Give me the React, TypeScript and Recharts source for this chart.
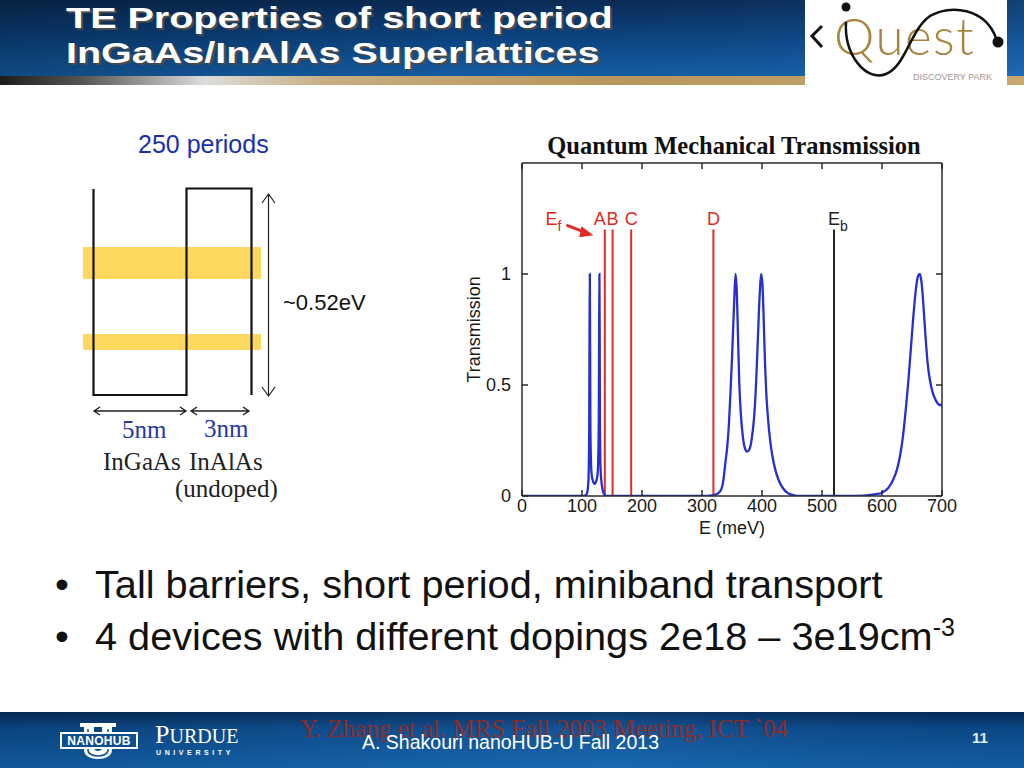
import React from 'react';
import { LineChart, Line, XAxis, YAxis, ReferenceLine, ReferenceDot } from 'recharts';

// ---- Data ----
const energyMeV = [
  0, 100, 106, 108, 109, 110, 111, 112, 112.5, 113, 113.5, 114, 115, 116, 118, 121, 124, 126, 127, 128, 128.5, 129, 129.5, 130, 131, 133, 135, 137, 140,
  300, 320, 330, 335, 339, 342, 345, 348, 350, 352, 354, 356, 358, 360, 362, 365, 368, 371, 375, 379, 383, 387, 390, 393, 396, 399, 401, 403, 405, 407, 410, 414, 418, 422, 428, 435, 442, 450, 460,
  540, 570, 590, 600, 610, 618, 625, 630, 635, 640, 644, 648, 652, 656, 660, 663, 666, 669, 672, 676, 680, 684, 688, 692, 696, 700,
];
const transmission = [
  0, 0, 0.003, 0.01, 0.02, 0.04, 0.09, 0.3, 0.7, 1.0, 0.7, 0.32, 0.15, 0.1, 0.07, 0.055, 0.07, 0.1, 0.16, 0.35, 0.7, 1.0, 0.7, 0.3, 0.12, 0.05, 0.02, 0.007, 0,
  0, 0.004, 0.02, 0.06, 0.15, 0.22, 0.33, 0.5, 0.62, 0.76, 0.9, 1.0, 0.92, 0.72, 0.52, 0.36, 0.27, 0.22, 0.2, 0.21, 0.26, 0.36, 0.5, 0.7, 0.9, 1.0, 0.94, 0.78, 0.6, 0.47, 0.35, 0.24, 0.17, 0.12, 0.07, 0.035, 0.015, 0.005, 0,
  0, 0.002, 0.008, 0.015, 0.035, 0.07, 0.12, 0.18, 0.27, 0.4, 0.52, 0.66, 0.8, 0.92, 0.99, 1.0, 0.96, 0.86, 0.74, 0.6, 0.52, 0.47, 0.44, 0.42, 0.41, 0.41,
];
const xTicks = [0, 100, 200, 300, 400, 500, 600, 700];
const yTicks = [0, 0.5, 1];
const yTickLabels = ['0', '0.5', '1'];

const markerNames = ['A', 'B', 'C', 'D', 'E'];
const markerSubs = ['', '', '', '', 'b'];
const markerEnergies = [138, 151, 182, 319, 520];
const markerTop = 1.2;
const efTip = { e: 119, t: 1.175 };

const chartData = energyMeV.map((e, i) => ({ e, t: transmission[i] }));

const RED = '#e02a24';
const BLACK = '#222';
const markerColors = [RED, RED, RED, RED, BLACK];
const markerNudge = [-5, 0, 0, 0, -6];
const SANS = '"Liberation Sans", Arial, sans-serif';
const SERIF = '"Liberation Serif", "Times New Roman", serif';
const AXIS = '#2a2a2a';
const TICK_LEN = 6;
const X_MARGIN = 10;
const Y_MARGIN = 11;

const MarkerLabel = (i: number) => (p: any) => {
  const hasSub = markerSubs[i] !== '';
  return (
    <text
      x={p.cx + markerNudge[i]}
      y={p.cy - 5}
      textAnchor={hasSub ? 'start' : 'middle'}
      fontFamily={SANS}
      fontSize={18}
      fill={markerColors[i]}
    >
      {markerNames[i]}
      {hasSub && (
        <tspan dy={6} fontSize={14}>
          {markerSubs[i]}
        </tspan>
      )}
    </text>
  );
};

const EfLabel = (p: any) => {
  const x = p.cx;
  const y = p.cy;
  return (
    <g>
      <text x={x - 48} y={y - 10} fontFamily={SANS} fontSize={18} fill={RED}>
        E<tspan dy={6} fontSize={14}>f</tspan>
      </text>
      <line x1={x - 27} y1={y - 10} x2={x - 9} y2={y - 3} stroke={RED} strokeWidth={3} />
      <polygon points={`${x},${y} ${x - 12},${y - 9} ${x - 14},${y + 2}`} fill={RED} />
    </g>
  );
};

// Inward (MATLAB-style) ticks drawn with the labels, from the axis positions Recharts gives.
const BottomTick = (p: any) => {
  const axisY = p.y - X_MARGIN;
  return (
    <g>
      <line x1={p.x} y1={axisY} x2={p.x} y2={axisY - TICK_LEN} stroke={AXIS} strokeWidth={1.5} />
      <text x={p.x} y={p.y} dy={6} textAnchor="middle" fontFamily={SANS} fontSize={18} fill="#1a1a1a">
        {p.payload.value}
      </text>
    </g>
  );
};
const TopTick = (p: any) => (
  <line x1={p.x} y1={p.y} x2={p.x} y2={p.y + TICK_LEN} stroke={AXIS} strokeWidth={1.5} />
);
const LeftTick = (p: any) => {
  const idx = yTicks.indexOf(p.payload.value);
  const axisX = p.x + Y_MARGIN;
  return (
    <g>
      <line x1={axisX} y1={p.y} x2={axisX + TICK_LEN} y2={p.y} stroke={AXIS} strokeWidth={1.5} />
      <text x={p.x} y={p.y} dy={6} textAnchor="end" fontFamily={SANS} fontSize={18} fill="#1a1a1a">
        {idx >= 0 ? yTickLabels[idx] : p.payload.value}
      </text>
    </g>
  );
};
const RightTick = (p: any) => (
  <line x1={p.x} y1={p.y} x2={p.x - TICK_LEN} y2={p.y} stroke={AXIS} strokeWidth={1.5} />
);

const XLabel = (p: any) => {
  const vb = p.viewBox;
  return (
    <text x={vb.x + vb.width / 2} y={vb.y + 38} textAnchor="middle" fontFamily={SANS} fontSize={18} fill="#1a1a1a">
      E (meV)
    </text>
  );
};

const YLabel = (p: any) => {
  const vb = p.viewBox;
  const cx = vb.x + 14;
  const cy = vb.y + vb.height / 2;
  return (
    <text
      x={cx}
      y={cy}
      transform={`rotate(-90 ${cx} ${cy})`}
      textAnchor="middle"
      dominantBaseline="central"
      fontFamily={SANS}
      fontSize={18}
      fill="#1a1a1a"
    >
      Transmission
    </text>
  );
};

function TransmissionChart() {
  return (
    <LineChart width={500} height={410} data={chartData} margin={{ top: 32, right: 17, bottom: 14, left: 0 }}>
      <XAxis
        dataKey="e"
        type="number"
        domain={[0, 700]}
        ticks={xTicks}
        height={30}
        tickSize={0}
        tickMargin={X_MARGIN}
        axisLine={{ stroke: AXIS, strokeWidth: 1.5 }}
        tickLine={false}
        tick={<BottomTick />}
        label={<XLabel />}
        allowDataOverflow
      />
      <XAxis
        xAxisId="top"
        orientation="top"
        type="number"
        dataKey="e"
        domain={[0, 700]}
        ticks={xTicks}
        height={1}
        tickSize={0}
        tickMargin={0}
        tick={<TopTick />}
        axisLine={{ stroke: AXIS, strokeWidth: 1.5 }}
        tickLine={false}
        allowDataOverflow
      />
      <YAxis
        type="number"
        domain={[0, 1.5]}
        ticks={yTicks}
        width={62}
        tickSize={0}
        tickMargin={Y_MARGIN}
        axisLine={{ stroke: AXIS, strokeWidth: 1.5 }}
        tickLine={false}
        tick={<LeftTick />}
        label={<YLabel />}
        allowDataOverflow
      />
      <YAxis
        yAxisId="right"
        orientation="right"
        type="number"
        domain={[0, 1.5]}
        ticks={yTicks}
        width={1}
        tickSize={0}
        tickMargin={0}
        tick={<RightTick />}
        axisLine={{ stroke: AXIS, strokeWidth: 1.5 }}
        tickLine={false}
        allowDataOverflow
      />
      {markerEnergies.map((e, i) => (
        <ReferenceLine
          key={'ml' + i}
          segment={[
            { x: e, y: 0 },
            { x: e, y: markerTop },
          ]}
          stroke={markerColors[i]}
          strokeWidth={2}
        />
      ))}
      <Line
        type="monotone"
        dataKey="t"
        stroke="#2430d0"
        strokeWidth={2.3}
        dot={false}
        isAnimationActive={false}
      />
      {markerEnergies.map((e, i) => (
        <ReferenceDot key={'md' + i} x={e} y={markerTop} r={0} shape={MarkerLabel(i)} />
      ))}
      <ReferenceDot x={efTip.e} y={efTip.t} r={0} shape={EfLabel} />
    </LineChart>
  );
}

function Decor() {
  return (
    <svg width={1024} height={768} style={{ position: 'absolute', left: 0, top: 0 }}>
      <defs>
        <linearGradient id="hdr" x1="0" y1="0" x2="0" y2="1">
          <stop offset="0" stopColor="#0a2c58" />
          <stop offset="0.55" stopColor="#0d4a8c" />
          <stop offset="1" stopColor="#1663ae" />
        </linearGradient>
        <linearGradient id="hdrShade" x1="0" y1="0" x2="1" y2="0">
          <stop offset="0" stopColor="#000" stopOpacity="0.25" />
          <stop offset="0.5" stopColor="#000" stopOpacity="0.05" />
          <stop offset="1" stopColor="#3b8ad8" stopOpacity="0.2" />
        </linearGradient>
        <linearGradient id="stripe" x1="0" y1="0" x2="1" y2="0">
          <stop offset="0" stopColor="#1c1c1c" />
          <stop offset="0.08" stopColor="#555" />
          <stop offset="0.2" stopColor="#dcdcdc" />
          <stop offset="0.32" stopColor="#c7ad80" />
          <stop offset="0.6" stopColor="#b8955b" />
          <stop offset="1" stopColor="#c9a76f" />
        </linearGradient>
        <linearGradient id="ftr" x1="0" y1="0" x2="0" y2="1">
          <stop offset="0" stopColor="#052c5a" />
          <stop offset="0.3" stopColor="#0c4b8c" />
          <stop offset="1" stopColor="#1262aa" />
        </linearGradient>
        <linearGradient id="ftrShade" x1="0" y1="0" x2="1" y2="0">
          <stop offset="0" stopColor="#000" stopOpacity="0.1" />
          <stop offset="0.6" stopColor="#4aa0e8" stopOpacity="0.12" />
          <stop offset="1" stopColor="#000" stopOpacity="0.05" />
        </linearGradient>
      </defs>

      {/* Header */}
      <rect x={0} y={0} width={1024} height={77} fill="url(#hdr)" />
      <rect x={0} y={0} width={1024} height={77} fill="url(#hdrShade)" />
      <rect x={0} y={76} width={1024} height={9} fill="url(#stripe)" />
      <g fontFamily={SANS} fontWeight="bold" fontSize={29.5}>
        <g transform="translate(68,30) scale(1.34,1)">
          <text x={0} y={0} fill="#4a4a4a">TE Properties of short period</text>
        </g>
        <g transform="translate(66,28) scale(1.34,1)">
          <text x={0} y={0} fill="#ffffff">TE Properties of short period</text>
        </g>
        <g transform="translate(68,65) scale(1.34,1)">
          <text x={0} y={0} fill="#4a4a4a">InGaAs/InAlAs Superlattices</text>
        </g>
        <g transform="translate(66,63) scale(1.34,1)">
          <text x={0} y={0} fill="#ffffff">InGaAs/InAlAs Superlattices</text>
        </g>
      </g>

      {/* Quest logo */}
      <rect x={805} y={0} width={202} height={86} fill="#ffffff" />
      <text x={834} y={55} fontFamily={'Lato, "Open Sans", sans-serif'} fontWeight={300} fontSize={51} fill="#a8843f" letterSpacing={1.5}>
        Quest
      </text>
      <path d="M822 26 L812 36 L822 47" stroke="#111" strokeWidth={3} fill="none" />
      <circle cx={846} cy={7} r={4.5} fill="#111" />
      <path d="M846 22 C844 55, 866 82, 886 74 C906 66, 910 30, 930 16 C950 4, 985 8, 996 38" stroke="#111" strokeWidth={2.5} fill="none" />
      <circle cx={998} cy={42} r={5.5} fill="#111" />
      <text x={913} y={80} fontFamily={SANS} fontSize={9} fill="#9a9a9a">DISCOVERY PARK</text>

      {/* Left diagram */}
      <text x={138} y={153} fontFamily={SANS} fontSize={25} fill="#1a2fb0">250 periods</text>
      <rect x={83} y={247} width={178} height={32} fill="#fcd54c" opacity={0.9} />
      <rect x={83} y={334} width={178} height={16} fill="#fcd54c" opacity={0.9} />
      <path d="M93.5 189 L93.5 395 L186.5 395 L186.5 188.5 L251.5 188.5 L251.5 395" stroke="#111" strokeWidth={2.2} fill="none" />
      <path d="M268.5 194 L268.5 396 M262 203 L268.5 194 L275 203 M262 387 L268.5 396 L275 387" stroke="#222" strokeWidth={1.2} fill="none" />
      <text x={283} y={310} fontFamily={SANS} fontSize={22} fill="#111">~0.52eV</text>
      <path d="M94 411 L186 411 M100 407 L94 411 L100 415 M180 407 L186 411 L180 415" stroke="#222" strokeWidth={1.4} fill="none" />
      <path d="M191 411 L249 411 M197 407 L191 411 L197 415 M243 407 L249 411 L243 415" stroke="#222" strokeWidth={1.4} fill="none" />
      <g fontFamily={SERIF} fontSize={25}>
        <text x={122} y={438} fill="#2436a8">5nm</text>
        <text x={204} y={437} fill="#2436a8">3nm</text>
        <text x={103} y={470} fill="#222">InGaAs</text>
        <text x={189} y={470} fill="#222">InAlAs</text>
        <text x={175} y={497} fill="#222">(undoped)</text>
      </g>

      {/* Chart title */}
      <text x={734} y={154} textAnchor="middle" fontFamily={SERIF} fontWeight="bold" fontSize={24.5} fill="#111">
        Quantum Mechanical Transmission
      </text>

      {/* Bullets */}
      <g fontFamily={SANS} fontSize={39.7} fill="#111">
        <text x={55} y={598}>•</text>
        <text x={95} y={598}>Tall barriers, short period, miniband transport</text>
        <text x={55} y={650}>•</text>
        <text x={95} y={650}>
          4 devices with different dopings 2e18 – 3e19cm
          <tspan dy={-14} fontSize={25}>-3</tspan>
        </text>
      </g>

      {/* Footer */}
      <rect x={0} y={712} width={1024} height={56} fill="url(#ftr)" />
      <rect x={0} y={712} width={1024} height={56} fill="url(#ftrShade)" />
      <path d="M80 723 L98 723 L98 727 L94 727 L94 748 C94 752, 102 752, 102 748 L102 727 L98 727 L98 723 L116 723 L116 727 L112 727 L112 750 C112 762, 84 762, 84 750 L84 727 L80 727 Z" fill="#ffffff" />
      <path d="M88 729 L88 750 C88 758, 108 758, 108 750 L108 729" stroke="#0f4f90" strokeWidth={1.5} fill="none" />
      <rect x={61} y={733} width={76} height={15} fill="#0f4f90" stroke="#ffffff" strokeWidth={2} />
      <text x={99} y={745} textAnchor="middle" fontFamily={SANS} fontWeight="bold" fontSize={12} fill="#ffffff" letterSpacing={0.3}>NANOHUB</text>
      <text x={155} y={743} fontFamily={SERIF} fill="#ffffff">
        <tspan fontSize={26}>P</tspan>
        <tspan fontSize={20}>URDUE</tspan>
      </text>
      <text x={156} y={755} fontFamily={SANS} fontWeight="bold" fontSize={7} fill="#ffffff" letterSpacing={3.6}>UNIVERSITY</text>
      <text x={300} y={737} fontFamily={SERIF} fontSize={25} fill="#9a2a1c" opacity={0.9}>
        Y. Zhang et al. MRS Fall 2003 Meeting, ICT `04
      </text>
      <text x={362} y={749} fontFamily={SANS} fontSize={19.5} fill="#ffffff">A. Shakouri nanoHUB-U Fall 2013</text>
      <text x={972} y={743} fontFamily={SANS} fontWeight="bold" fontSize={15} fill="#e8eef6">11</text>
    </svg>
  );
}

export default function App() {
  return (
    <div
      style={{
        position: 'absolute',
        left: 0,
        top: 0,
        width: 1024,
        height: 768,
        background: '#ffffff',
        overflow: 'hidden',
      }}
    >
      <Decor />
      <div style={{ position: 'absolute', left: 460, top: 130 }}>
        <TransmissionChart />
      </div>
    </div>
  );
}
